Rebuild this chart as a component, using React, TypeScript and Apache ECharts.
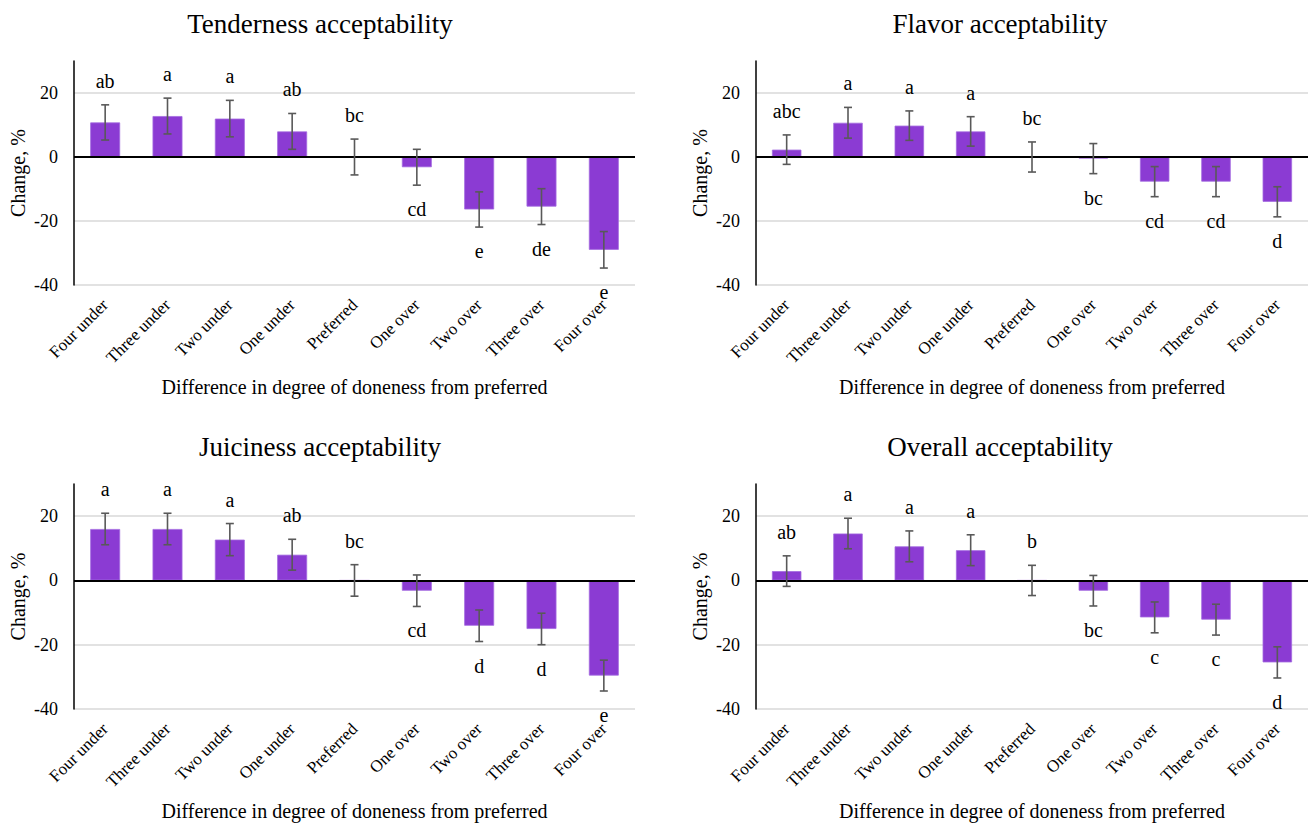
import React, { useEffect, useRef } from 'react';
import * as echarts from 'echarts';

const FONT = '"Liberation Serif", "Times New Roman", serif';

const categories = ['Four under', 'Three under', 'Two under', 'One under', 'Preferred', 'One over', 'Two over', 'Three over', 'Four over'];
const xTitle = 'Difference in degree of doneness from preferred';
const yTitle = 'Change, %';

const tenderValues = [10.8, 12.8, 12.0, 8.0, 0, -3.2, -16.4, -15.5, -29.0];
const tenderErrors = [5.5, 5.6, 5.7, 5.6, 5.6, 5.6, 5.5, 5.6, 5.7];
const tenderLetters = ['ab', 'a', 'a', 'ab', 'bc', 'cd', 'e', 'de', 'e'];

const flavorValues = [2.3, 10.7, 9.8, 8.0, 0, -0.5, -7.7, -7.7, -14.0];
const flavorErrors = [4.6, 4.8, 4.6, 4.6, 4.7, 4.7, 4.7, 4.7, 4.7];
const flavorLetters = ['abc', 'a', 'a', 'a', 'bc', 'bc', 'cd', 'cd', 'd'];

const juicyValues = [16.0, 16.0, 12.7, 8.0, 0, -3.2, -14.1, -15.1, -29.6];
const juicyErrors = [4.9, 4.9, 5.0, 4.8, 4.9, 4.9, 4.9, 4.9, 4.8];
const juicyLetters = ['a', 'a', 'a', 'ab', 'bc', 'cd', 'd', 'd', 'e'];

const overallValues = [2.9, 14.6, 10.6, 9.4, 0, -3.2, -11.5, -12.2, -25.5];
const overallErrors = [4.75, 4.75, 4.8, 4.8, 4.7, 4.75, 4.8, 4.8, 4.85];
const overallLetters = ['ab', 'a', 'a', 'a', 'b', 'bc', 'c', 'c', 'd'];

const panelTitles = ['Tenderness acceptability', 'Flavor acceptability', 'Juiciness acceptability', 'Overall acceptability'];

export default function App() {
  const ref = useRef<HTMLDivElement>(null);

  useEffect(() => {
    if (!ref.current) return;
    const chart = echarts.init(ref.current, null, { renderer: 'svg' });

    const panels = [
      { title: panelTitles[0], values: tenderValues, errors: tenderErrors, letters: tenderLetters, left: 74, top: 61, width: 561, height: 224, tx: 320, ty: 24 },
      { title: panelTitles[1], values: flavorValues, errors: flavorErrors, letters: flavorLetters, left: 756, top: 61, width: 559, height: 224, tx: 1000, ty: 24 },
      { title: panelTitles[2], values: juicyValues, errors: juicyErrors, letters: juicyLetters, left: 74, top: 484, width: 561, height: 225, tx: 320, ty: 447 },
      { title: panelTitles[3], values: overallValues, errors: overallErrors, letters: overallLetters, left: 756, top: 484, width: 559, height: 225, tx: 1000, ty: 447 },
    ];

    const grid = panels.map((p) => ({ left: p.left, top: p.top, width: p.width, height: p.height, containLabel: false }));

    const xAxis = panels.map((p, i) => ({
      type: 'category',
      gridIndex: i,
      data: categories,
      position: 'bottom',
      axisLine: { show: false, onZero: false },
      axisTick: { show: false },
      axisLabel: { rotate: 45, margin: 17, interval: 0, fontSize: 17, color: '#000', fontFamily: FONT },
      name: xTitle,
      nameLocation: 'middle',
      nameGap: 92,
      nameTextStyle: { fontSize: 20, color: '#000', fontFamily: FONT },
    }));

    const yAxis = panels.map((p, i) => ({
      type: 'value',
      gridIndex: i,
      min: -40,
      max: 30,
      interval: 20,
      axisLine: { show: true, onZero: false, lineStyle: { color: '#000', width: 1.5 } },
      axisTick: { show: false },
      axisLabel: { fontSize: 18, color: '#000', fontFamily: FONT, margin: 16, showMaxLabel: false },
      splitLine: { show: true, showMaxLine: false, lineStyle: { color: '#d9d9d9', width: 1.5 } },
      name: yTitle,
      nameLocation: 'middle',
      nameGap: 46,
      nameTextStyle: { fontSize: 20, color: '#000', fontFamily: FONT },
    }));

    const series: any[] = [];
    panels.forEach((p, i) => {
      series.push({
        type: 'bar',
        xAxisIndex: i,
        yAxisIndex: i,
        data: p.values,
        barWidth: '48%',
        itemStyle: { color: '#8B3BD3', borderColor: '#a36be0', borderWidth: 0.8 },
        z: 2,
        markLine: {
          silent: true,
          symbol: 'none',
          label: { show: false },
          lineStyle: { color: '#000', width: 2.2, type: 'solid' },
          data: [{ yAxis: 0 }],
        },
      });
      series.push({
        type: 'custom',
        xAxisIndex: i,
        yAxisIndex: i,
        z: 10,
        encode: { x: 0, y: 1 },
        data: p.values.map((v, j) => [j, v, p.errors[j]]),
        renderItem: (params: any, api: any) => {
          const idx = api.value(0);
          const v = api.value(1);
          const e = api.value(2);
          const top = api.coord([idx, v + e]);
          const bot = api.coord([idx, v - e]);
          const x = top[0];
          const cap = 4;
          const stroke = { stroke: '#595959', lineWidth: 1.6 };
          const letter = p.letters[params.dataIndex];
          const ly = v >= 0 ? top[1] - 24 : bot[1] + 24;
          return {
            type: 'group',
            children: [
              { type: 'line', shape: { x1: x, y1: top[1], x2: x, y2: bot[1] }, style: stroke },
              { type: 'line', shape: { x1: x - cap, y1: top[1], x2: x + cap, y2: top[1] }, style: stroke },
              { type: 'line', shape: { x1: x - cap, y1: bot[1], x2: x + cap, y2: bot[1] }, style: stroke },
              {
                type: 'text',
                x: x,
                y: ly,
                style: {
                  text: letter,
                  font: '20px ' + FONT,
                  fill: '#000',
                  align: 'center',
                  verticalAlign: 'middle',
                  textAlign: 'center',
                  textVerticalAlign: 'middle',
                },
              },
            ],
          };
        },
      });
    });

    const graphic = panels.map((p) => ({
      type: 'text',
      x: p.tx,
      y: p.ty,
      style: {
        text: p.title,
        font: '27px ' + FONT,
        fill: '#000',
        textAlign: 'center',
        textVerticalAlign: 'middle',
        align: 'center',
        verticalAlign: 'middle',
      },
    }));

    chart.setOption({
      animation: false,
      backgroundColor: '#fff',
      grid,
      xAxis,
      yAxis,
      series,
      graphic,
    } as any);

    return () => chart.dispose();
  }, []);

  return <div ref={ref} style={{ position: 'absolute', left: 0, top: 0, width: 1308, height: 823 }} />;
}
